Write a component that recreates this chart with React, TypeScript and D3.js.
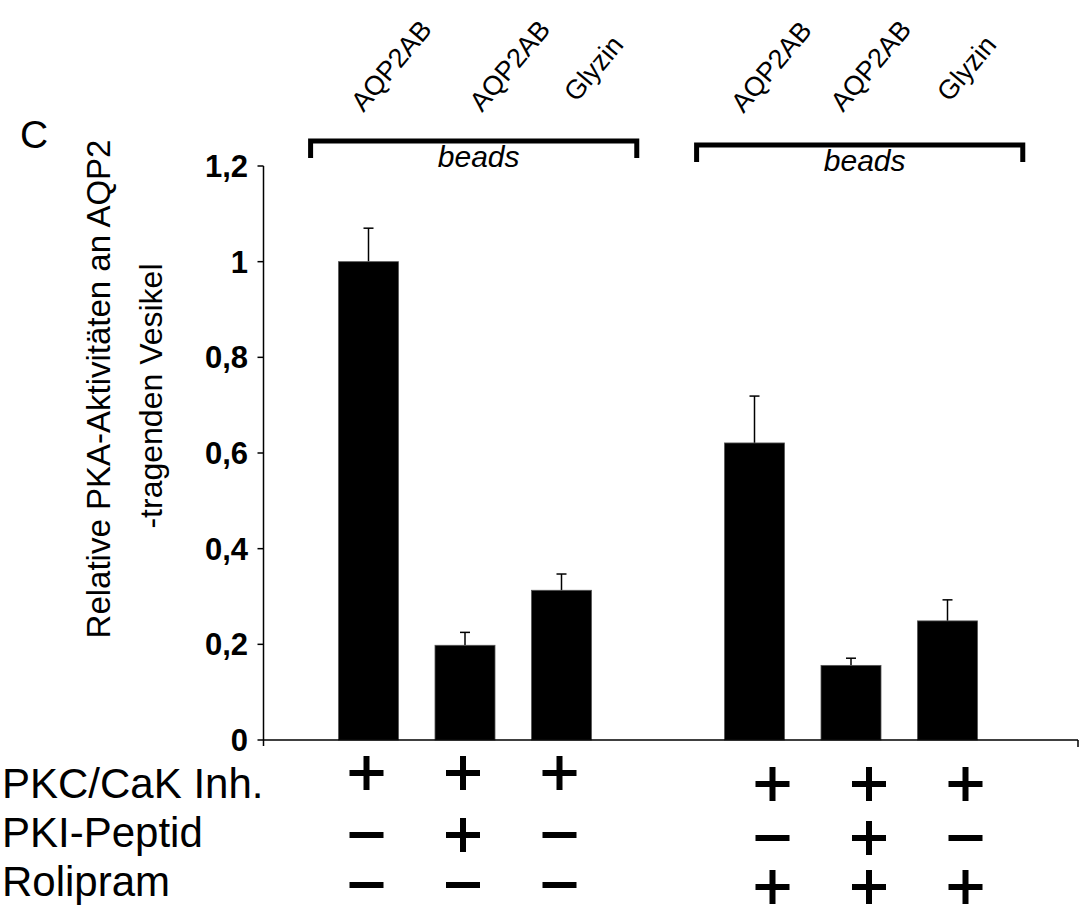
import React from "react";
import * as d3 from "d3";

const slots = [0, 1, 2, 4, 5, 6];
const barLabels = ["AQP2AB", "AQP2AB", "Glyzin", "AQP2AB", "AQP2AB", "Glyzin"];
const values = [1.0, 0.198, 0.313, 0.621, 0.156, 0.249];
const errors = [0.07, 0.027, 0.034, 0.098, 0.015, 0.044];
const pkcRow = ["+", "+", "+", "+", "+", "+"];
const pkiRow = ["-", "+", "-", "-", "+", "-"];
const roliRow = ["-", "-", "-", "+", "+", "+"];
const rowLabels = ["PKC/CaK Inh.", "PKI-Peptid", "Rolipram"];
const yTicks = [0, 0.2, 0.4, 0.6, 0.8, 1, 1.2];
const groups = [
  { label: "beads", first: 0, last: 2 },
  { label: "beads", first: 4, last: 6 },
];
const yTitle = ["Relative PKA-Aktivitäten an AQP2", "-tragenden Vesikel"];
const panel = "C";

// layout (hand-placed annotations in the original figure)
const labelDx = [-5, 17, 15, -11, -8, 2];
const labelY = [113, 113, 103, 114, 113, 103];

const W = 1081;
const H = 909;
const FONT = "'Liberation Sans', Arial, sans-serif";

export default function App() {
  const y = d3.scaleLinear().domain([0, 1.2]).range([740, 166]);
  const x = d3.scaleLinear().domain([0, 6]).range([368.5, 947.5]);
  const axisLeft = 263.5;
  const axisRight = 1078;
  const barW = 60;
  const fmt = (v: number) => String(v).replace(".", ",");

  const rows = [pkcRow, pkiRow, roliRow];
  const rowYLeft = [773, 835, 885];
  const rowYRight = [784, 838, 887];
  const sign = (s: string, cx: number, cy: number, key: string) => {
    const h = 17;
    return (
      <g key={key}>
        <line x1={cx - h} x2={cx + h} y1={cy} y2={cy} stroke="#000" strokeWidth={6} />
        {s === "+" && (
          <line x1={cx} x2={cx} y1={cy - h} y2={cy + h} stroke="#000" strokeWidth={6} />
        )}
      </g>
    );
  };

  return (
    <svg width={W} height={H} style={{ position: "absolute", left: 0, top: 0, background: "#fff" }}>
      <rect width={W} height={H} fill="#fff" />
      <text x={20} y={148} fontFamily={FONT} fontSize={39}>{panel}</text>

      {/* y title */}
      <text
        transform={`translate(110,389) rotate(-90)`}
        textAnchor="middle"
        fontFamily={FONT}
        fontSize={33}
      >
        {yTitle[0]}
      </text>
      <text
        transform={`translate(162,396) rotate(-90)`}
        textAnchor="middle"
        fontFamily={FONT}
        fontSize={32}
      >
        {yTitle[1]}
      </text>

      {/* bars */}
      {slots.map((s, i) => (
        <g key={"b" + i}>
          <line
            x1={x(s)}
            x2={x(s)}
            y1={y(values[i])}
            y2={y(values[i] + errors[i])}
            stroke="#000"
            strokeWidth={1.5}
          />
          <line
            x1={x(s) - 5}
            x2={x(s) + 5}
            y1={y(values[i] + errors[i])}
            y2={y(values[i] + errors[i])}
            stroke="#000"
            strokeWidth={1.5}
          />
          <rect
            x={x(s) - barW / 2}
            y={y(values[i])}
            width={barW}
            height={y(0) - y(values[i])}
            fill="#000"
            stroke="#555"
            strokeWidth={0.8}
          />
        </g>
      ))}

      {/* axes */}
      <line x1={axisLeft} x2={axisLeft} y1={y(1.2)} y2={y(0) + 6} stroke="#000" strokeWidth={1.5} />
      <line x1={axisLeft} x2={axisRight} y1={y(0)} y2={y(0)} stroke="#000" strokeWidth={1.5} />
      <line x1={axisRight} x2={axisRight} y1={y(0)} y2={y(0) + 7} stroke="#000" strokeWidth={1.5} />
      {yTicks.map((t) => (
        <g key={"t" + t}>
          <line x1={axisLeft - 6} x2={axisLeft} y1={y(t)} y2={y(t)} stroke="#000" strokeWidth={1.5} />
          <text
            x={248}
            y={y(t)}
            dy="0.36em"
            textAnchor="end"
            fontFamily={FONT}
            fontWeight="bold"
            fontSize={31}
          >
            {fmt(t)}
          </text>
        </g>
      ))}

      {/* rotated bar labels */}
      {slots.map((s, i) => (
        <text
          key={"l" + i}
          transform={`translate(${x(s) + labelDx[i]},${labelY[i]}) rotate(-50)`}
          fontFamily={FONT}
          fontSize={27}
        >
          {barLabels[i]}
        </text>
      ))}

      {/* brackets */}
      {groups.map((g, gi) => {
        const x1 = x(g.first - 0.6);
        const x2 = x(g.last + 0.78);
        const top = 141 + gi * 4;
        return (
          <g key={"g" + gi}>
            <path
              d={`M${x1},${top + 17} V${top} H${x2} V${top + 17}`}
              fill="none"
              stroke="#000"
              strokeWidth={5}
            />
            <text
              x={(x1 + x2) / 2 + 5}
              y={top + 26}
              textAnchor="middle"
              fontFamily={FONT}
              fontStyle="italic"
              fontSize={30}
            >
              {g.label}
            </text>
          </g>
        );
      })}

      {/* treatment rows */}
      {rowLabels.map((r, ri) => (
        <text key={"r" + ri} x={2} y={798 + ri * 49} fontFamily={FONT} fontSize={42}>
          {r}
        </text>
      ))}
      {rows.map((row, ri) =>
        slots.map((s, i) => {
          const right = s > 3;
          const cx = x(s) + (right ? 18 : -2);
          const cy = right ? rowYRight[ri] : rowYLeft[ri];
          return sign(row[i], cx, cy, `s${ri}-${i}`);
        })
      )}
    </svg>
  );
}
